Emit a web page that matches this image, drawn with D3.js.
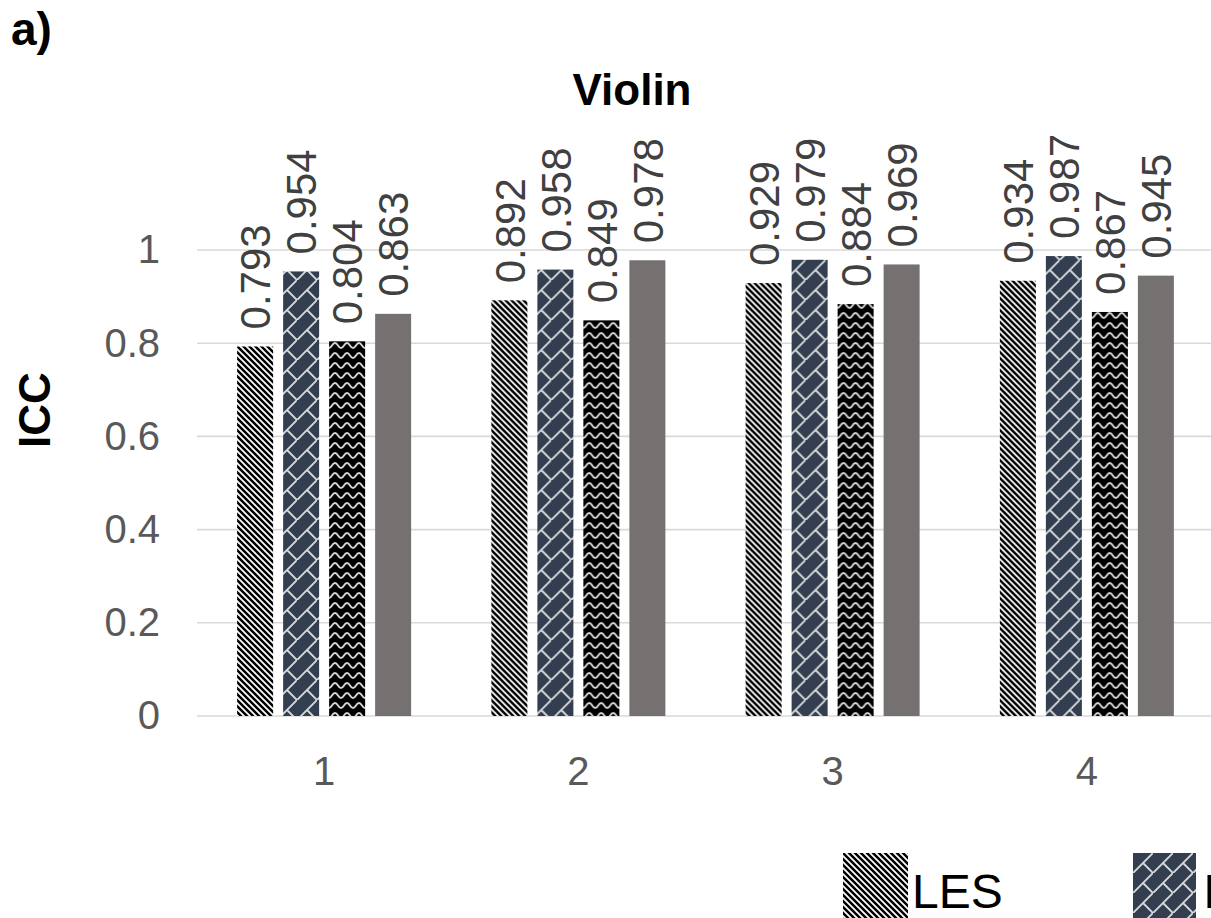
<!DOCTYPE html>
<html>
<head>
<meta charset="utf-8">
<script src="https://cdn.jsdelivr.net/npm/d3@7"></script>
<style>
  html, body { margin: 0; padding: 0; background: #fff; overflow: hidden; }
  text { font-family: Arial, "Liberation Sans", sans-serif; }
</style>
</head>
<body>
<svg id="chart" width="1211" height="918"></svg>
<script>
// ---- data ----
const categories = ["1", "2", "3", "4"];
const seriesNames = ["LES", "IES", "WES", "AVG"];
const seriesLES = [0.793, 0.892, 0.929, 0.934];
const seriesB   = [0.954, 0.958, 0.979, 0.987];
const seriesC   = [0.804, 0.849, 0.884, 0.867];
const seriesD   = [0.863, 0.978, 0.969, 0.945];
const yTicks = [0, 0.2, 0.4, 0.6, 0.8, 1];
const yTickLabels = ["0", "0.2", "0.4", "0.6", "0.8", "1"];
const chartTitle = "Violin";
const yTitle = "ICC";
const panelLabel = "a)";

const seriesValues = [seriesLES, seriesB, seriesC, seriesD];
const seriesFill = ["url(#pStripe)", "url(#pBrick)", "url(#pWave)", "#767171"];

const svg = d3.select("#chart");

// ---- patterns ----
const defs = svg.append("defs");
// wide downward diagonal stripes
const ps = defs.append("pattern").attr("id", "pStripe").attr("patternUnits", "userSpaceOnUse")
  .attr("width", 6).attr("height", 6);
ps.append("rect").attr("width", 6).attr("height", 6).attr("fill", "#fff");
ps.append("path").attr("d", "M-1,-1 L7,7 M-1,5 L1,7 M5,-1 L7,1")
  .attr("stroke", "#000").attr("stroke-width", 2.5);
// diagonal brick
const pb = defs.append("pattern").attr("id", "pBrick").attr("patternUnits", "userSpaceOnUse")
  .attr("width", 20).attr("height", 20);
pb.append("rect").attr("width", 20).attr("height", 20).attr("fill", "#333f50");
pb.append("path").attr("d", "M-1,21 L21,-1 M10,10 L21,21")
  .attr("stroke", "#d6d8db").attr("stroke-width", 1.9).attr("fill", "none");
// wave
const pw = defs.append("pattern").attr("id", "pWave").attr("patternUnits", "userSpaceOnUse")
  .attr("width", 12).attr("height", 10);
pw.append("rect").attr("width", 12).attr("height", 10).attr("fill", "#000");
pw.append("path").attr("d", "M0,8 C3,8 3,3 6,3 C9,3 9,8 12,8")
  .attr("stroke", "#d4d4d4").attr("stroke-width", 1.9).attr("fill", "none");

// ---- scales ----
const x0 = d3.scaleBand().domain(categories).range([197, 1214]).paddingInner(0).paddingOuter(0);
const bw = x0.bandwidth();
const x1 = d3.scaleBand().domain(seriesNames).range([bw / 2 - 87, bw / 2 + 87])
  .paddingInner(10 / 46).paddingOuter(0);
const y = d3.scaleLinear().domain([0, 1]).range([716, 250]);

// ---- gridlines ----
svg.append("g").selectAll("line").data(yTicks).join("line")
  .attr("x1", 197).attr("x2", 1214)
  .attr("y1", d => y(d)).attr("y2", d => y(d))
  .attr("stroke", "#d9d9d9").attr("stroke-width", 1.6);

// ---- y axis labels ----
const yAxis = d3.axisLeft(y).tickValues(yTicks)
  .tickFormat((d, i) => yTickLabels[i]).tickSize(0).tickPadding(0);
const gy = svg.append("g").attr("transform", "translate(160,0)").call(yAxis);
gy.select(".domain").remove();
gy.selectAll("text").attr("font-size", 40).attr("fill", "#595959")
  .attr("font-family", "Arial, 'Liberation Sans', sans-serif");

// ---- x axis labels ----
const xAxis = d3.axisBottom(x0).tickSize(0).tickPadding(0);
const gx = svg.append("g").attr("transform", "translate(0,716)").call(xAxis);
gx.select(".domain").remove();
gx.selectAll("text").attr("font-size", 40).attr("fill", "#595959")
  .attr("dy", null).attr("y", 69)
  .attr("font-family", "Arial, 'Liberation Sans', sans-serif");

// ---- bars ----
const groups = svg.append("g").selectAll("g").data(categories).join("g")
  .attr("transform", d => `translate(${x0(d)},0)`);

groups.each(function(cat, ci) {
  const g = d3.select(this);
  seriesNames.forEach((s, si) => {
    const v = seriesValues[si][ci];
    g.append("rect")
      .attr("x", x1(s)).attr("width", x1.bandwidth())
      .attr("y", y(v)).attr("height", y(0) - y(v))
      .attr("fill", seriesFill[si]);
    const cx = x1(s) + x1.bandwidth() / 2;
    g.append("text")
      .attr("transform", `translate(${cx},${y(v) - 17}) rotate(-90)`)
      .attr("dy", "0.36em")
      .attr("text-anchor", "start")
      .attr("font-size", 42).attr("fill", "#404040")
      .text(v.toFixed(3));
  });
});

// ---- titles ----
svg.append("text").attr("x", 632).attr("y", 105).attr("text-anchor", "middle")
  .attr("font-size", 44).attr("font-weight", "bold").attr("fill", "#000").text(chartTitle);
svg.append("text").attr("transform", "translate(50,410) rotate(-90)").attr("text-anchor", "middle")
  .attr("font-size", 44).attr("font-weight", "bold").attr("fill", "#000").text(yTitle);
svg.append("text").attr("x", 11).attr("y", 45)
  .attr("font-size", 46).attr("font-weight", "bold").attr("fill", "#000").text(panelLabel);

// ---- legend (visible part) ----
const legendItems = seriesNames.slice(0, 2);
const legendX = [843, 1133];
const lg = svg.append("g").selectAll("g").data(legendItems).join("g")
  .attr("transform", (d, i) => `translate(${legendX[i]},853)`);
lg.append("rect").attr("width", (d, i) => i === 0 ? 65 : 63).attr("height", 65)
  .attr("fill", (d, i) => seriesFill[i]);
lg.append("text").attr("x", (d, i) => i === 0 ? 69 : 70).attr("y", 55)
  .attr("font-size", 48).attr("fill", "#000").text(d => d);
</script>
</body>
</html>
